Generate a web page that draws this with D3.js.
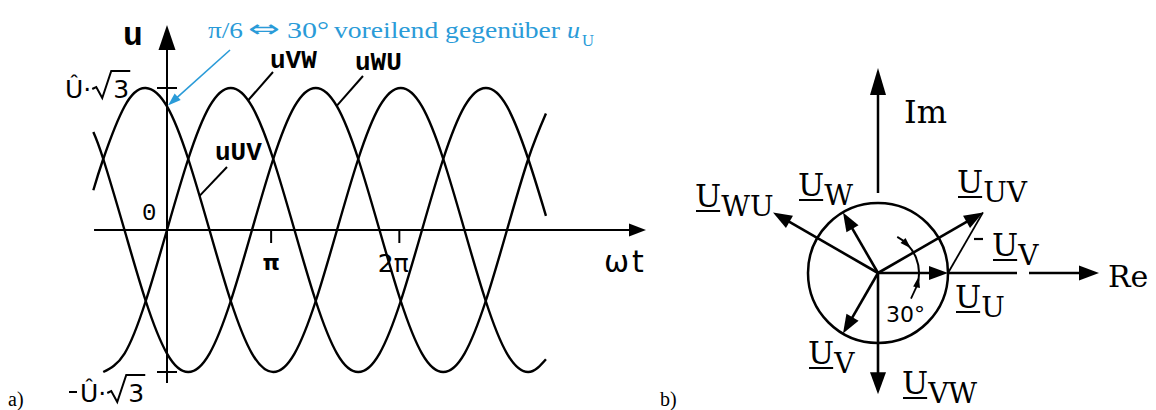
<!DOCTYPE html>
<html>
<head>
<meta charset="utf-8">
<script src="https://cdn.jsdelivr.net/npm/d3@7"></script>
<style>
  html, body { margin: 0; padding: 0; background: #fff; }
  svg { display: block; }
</style>
</head>
<body>
<script>
// ---- a) line voltages over one and a half periods (values in units of Û·√3) ----
const wt   = [-104, -90, -60, -30, 0, 30, 60, 90, 120, 150, 180, 210, 240, 270, 300, 330, 360, 390, 420, 450, 480, 510, 535];
const uVW  = [null, -1, -0.87, -0.5, 0, 0.5, 0.87, 1, 0.87, 0.5, 0, -0.5, -0.87, -1, -0.87, -0.5, 0, 0.5, 0.87, 1, 0.87, 0.5, 0.1];
const uUV  = [0.28, 0.5, 0.87, 1, 0.87, 0.5, 0, -0.5, -0.87, -1, -0.87, -0.5, 0, 0.5, 0.87, 1, 0.87, 0.5, 0, -0.5, -0.87, -1, -0.91];
const uWU  = [0.69, 0.5, 0, -0.5, -0.87, -1, -0.87, -0.5, 0, 0.5, 0.87, 1, 0.87, 0.5, 0, -0.5, -0.87, -1, -0.87, -0.5, 0, 0.5, 0.82];
const xTickLabels = ["π", "2π"];
const xTickAt     = [147, 328];      // ωt in degrees where the marks sit on the axis
const yTickAt     = [1, -1];

// ---- b) phasor diagram (magnitudes relative to Û) ----
const phasorSub   = ["U", "V", "W", "UV", "VW", "WU"];
const phasorAngle = [0, 240, 120, 30, 270, 150];
const phasorMag   = [1, 1, 1, 1.732, 1.732, 1.732];

const W = 1156, H = 410;
const svg = d3.select("body").append("svg").attr("width", W).attr("height", H);
svg.append("rect").attr("width", W).attr("height", H).attr("fill", "#fff");

const INK = "#000";
const BLUE = "#2a9bd8";

function head(g, tip, ang, len, hw, color) {
  // filled arrow head; ang = direction of travel in screen radians
  const ux = Math.cos(ang), uy = Math.sin(ang);
  const bx = tip[0] - ux * len, by = tip[1] - uy * len;
  const p = d3.path();
  p.moveTo(tip[0], tip[1]);
  p.lineTo(bx - uy * hw, by + ux * hw);
  p.lineTo(bx + uy * hw, by - ux * hw);
  p.closePath();
  g.append("path").attr("d", p.toString()).attr("fill", color || INK);
}

// ================= a) =================
const x = d3.scaleLinear().domain([0, 180]).range([167, 294.5]);
const y = d3.scaleLinear().domain([-1, 1]).range([372, 88]);
const ga = svg.append("g");

// axes
ga.append("line").attr("x1", x(-103)).attr("x2", 632).attr("y1", y(0)).attr("y2", y(0))
  .attr("stroke", INK).attr("stroke-width", 2.2);
head(ga, [646, y(0)], 0, 17, 6.5);
ga.append("line").attr("x1", x(0)).attr("x2", x(0)).attr("y1", y(-1.078)).attr("y2", 45)
  .attr("stroke", INK).attr("stroke-width", 2);
head(ga, [x(0), 25], -Math.PI / 2, 25, 8.5);

// ±Û·√3 marks
yTickAt.forEach(v => {
  ga.append("line").attr("x1", x(0) - 10).attr("x2", x(0) + 10).attr("y1", y(v)).attr("y2", y(v))
    .attr("stroke", INK).attr("stroke-width", 2);
});
// ωt marks
xTickAt.forEach(v => {
  ga.append("line").attr("x1", x(v)).attr("x2", x(v)).attr("y1", y(0)).attr("y2", y(0) + 13)
    .attr("stroke", INK).attr("stroke-width", 2);
});
ga.append("text").attr("x", x(xTickAt[0])).attr("y", 270).attr("text-anchor", "middle")
  .style("font", "bold 22px 'DejaVu Sans'").text(xTickLabels[0]);
ga.append("text").attr("x", x(xTickAt[1]) - 6).attr("y", 272).attr("text-anchor", "middle")
  .style("font", "25px 'DejaVu Sans'").text(xTickLabels[1]);

// curves
const line = d3.line().defined(d => d[1] != null).x(d => x(d[0])).y(d => y(d[1])).curve(d3.curveNatural);
[uVW, uUV, uWU].forEach(vals => {
  const pts = wt.map((t, i) => [t, vals[i]]).filter(d => d[1] != null);
  ga.append("path").attr("d", line(pts)).attr("fill", "none")
    .attr("stroke", INK).attr("stroke-width", 2.4);
});

// amplitude labels Û·√3 with drawn radical
function rootLabel(x0, base, minus) {
  const g = ga.append("g");
  let cx = x0;
  if (minus) {
    g.append("line").attr("x1", cx).attr("x2", cx + 8).attr("y1", base - 10).attr("y2", base - 10)
      .attr("stroke", INK).attr("stroke-width", 2);
    cx += 11;
  }
  const t = g.append("text").attr("x", cx).attr("y", base).style("font", "25px 'DejaVu Sans'").text("Û·");
  cx += t.node().getComputedTextLength() + 1;
  const p = d3.path();
  p.moveTo(cx, base - 9); p.lineTo(cx + 4, base - 11); p.lineTo(cx + 10, base);
  p.lineTo(cx + 19, base - 27); p.lineTo(cx + 38, base - 27);
  g.append("path").attr("d", p.toString()).attr("fill", "none").attr("stroke", INK)
    .attr("stroke-width", 2).attr("stroke-linejoin", "miter");
  g.append("text").attr("x", cx + 21).attr("y", base).style("font", "25px 'DejaVu Sans'").text("3");
}
rootLabel(65, 98, false);
rootLabel(69, 402, true);

ga.append("text").attr("x", 123).attr("y", 45).style("font", "bold 33px 'Liberation Mono'").text("u");
ga.append("text").attr("x", 142).attr("y", 220).style("font", "24px 'Liberation Mono'").text("0");
ga.append("text").attr("x", 604).attr("y", 272).style("font", "30px 'DejaVu Sans'")
  .attr("letter-spacing", 3).text("ωt");

// curve names with leader lines
function curveName(sub, tx, base, fromPt, toPt) {
  ga.append("line").attr("x1", fromPt[0]).attr("y1", fromPt[1]).attr("x2", toPt[0]).attr("y2", toPt[1])
    .attr("stroke", INK).attr("stroke-width", 2);
  ga.append("text").attr("x", tx).attr("y", base).style("font", "bold 26px 'Liberation Mono'")
    .text("u" + sub);
}
curveName("VW", 270, 68, [x(114), y(0.91)], [273, 72]);
curveName("WU", 355, 70, [x(239), y(0.87)], [363, 76]);
curveName("UV", 215, 160, [x(46), y(0.24)], [227, 167]);

// blue note with pointer
function notePart(txt, x0, w, base, font) {
  ga.append("text").attr("x", x0).attr("y", base).attr("fill", BLUE)
    .attr("textLength", w).attr("lengthAdjust", "spacingAndGlyphs")
    .style("font", font).text(txt);
}
notePart("π/6", 208, 35, 38, "24px 'Liberation Serif'");
notePart("⇔", 248, 32, 37, "24px 'DejaVu Sans'");
notePart("30°", 287, 42, 38, "24px 'Liberation Serif'");
notePart("voreilend gegenüber", 334, 226, 38, "24px 'Liberation Serif'");
notePart("u", 567, 13, 38, "italic 24px 'Liberation Serif'");
notePart("U", 582, 12, 46, "16px 'Liberation Serif'");
ga.append("line").attr("x1", 230).attr("y1", 50).attr("x2", x(0) + 8).attr("y2", y(0.87) - 7)
  .attr("stroke", BLUE).attr("stroke-width", 1.6);
head(ga, [x(0) + 1, y(0.87) - 1], Math.atan2(56, -62), 13, 4.5, BLUE);

ga.append("text").attr("x", 8).attr("y", 406).style("font", "20px 'Liberation Serif'").text("a)");

// ================= b) =================
const gb = svg.append("g");
const cx = 878, cy = 273;
const r = d3.scaleLinear().domain([0, 1]).range([0, 70]);
const pt = (mag, deg) => [cx + r(mag) * Math.cos(deg * Math.PI / 180), cy - r(mag) * Math.sin(deg * Math.PI / 180)];

gb.append("circle").attr("cx", cx).attr("cy", cy).attr("r", r(1)).attr("fill", "none")
  .attr("stroke", INK).attr("stroke-width", 2.5);

// Im axis
gb.append("line").attr("x1", cx).attr("x2", cx).attr("y1", cy - 80).attr("y2", cy - 180)
  .attr("stroke", INK).attr("stroke-width", 2.5);
head(gb, [cx, cy - 205], -Math.PI / 2, 27, 8);
// Re axis
gb.append("line").attr("x1", cx + 70).attr("x2", cx + 139).attr("y1", cy).attr("y2", cy)
  .attr("stroke", INK).attr("stroke-width", 2.5);
gb.append("line").attr("x1", cx + 151).attr("x2", cx + 205).attr("y1", cy).attr("y2", cy)
  .attr("stroke", INK).attr("stroke-width", 2.5);
head(gb, [cx + 221, cy], 0, 20, 7.5);

// -U_V from the tip of U_U to the tip of U_UV
const tipU = pt(phasorMag[0], phasorAngle[0]);
const tipUV = pt(phasorMag[3], phasorAngle[3]);
gb.append("line").attr("x1", tipU[0]).attr("y1", tipU[1]).attr("x2", tipUV[0]).attr("y2", tipUV[1])
  .attr("stroke", INK).attr("stroke-width", 1.8);

// phasors
phasorSub.forEach((s, i) => {
  const tip = pt(phasorMag[i], phasorAngle[i]);
  const ang = -phasorAngle[i] * Math.PI / 180;
  const len = s === "VW" ? 22 : 19;
  const hw = s === "VW" ? 8 : 7;
  const end = [tip[0] - Math.cos(ang) * (len - 2), tip[1] - Math.sin(ang) * (len - 2)];
  gb.append("line").attr("x1", cx).attr("y1", cy).attr("x2", end[0]).attr("y2", end[1])
    .attr("stroke", INK).attr("stroke-width", 2.6);
  head(gb, tip, ang, len, hw);
});

// 30° dimension arc
const rad = d => -d * Math.PI / 180;
const ap = d3.path();
ap.arc(cx, cy, 41, rad(62), rad(-18), false);
gb.append("path").attr("d", ap.toString()).attr("fill", "none").attr("stroke", INK).attr("stroke-width", 2);
function arcHead(tipDeg, baseDeg) {
  const t = [cx + 41 * Math.cos(rad(tipDeg)), cy + 41 * Math.sin(rad(tipDeg))];
  const b = [cx + 41 * Math.cos(rad(baseDeg)), cy + 41 * Math.sin(rad(baseDeg))];
  head(gb, t, Math.atan2(t[1] - b[1], t[0] - b[0]), 11, 3.5);
}
arcHead(37, 52);
arcHead(-5, -19);
const arcEnd = [cx + 41 * Math.cos(rad(-18)), cy + 41 * Math.sin(rad(-18))];
gb.append("line").attr("x1", arcEnd[0]).attr("y1", arcEnd[1]).attr("x2", arcEnd[0] - 6).attr("y2", arcEnd[1] + 13)
  .attr("stroke", INK).attr("stroke-width", 1.8);
gb.append("text").attr("x", 886).attr("y", 322).style("font", "22px 'DejaVu Sans'").text("30°");

// phasor names
function phasorName(sub, x0, base, minus) {
  if (minus) {
    gb.append("line").attr("x1", x0 - 18).attr("x2", x0 - 9).attr("y1", base - 17).attr("y2", base - 17)
      .attr("stroke", INK).attr("stroke-width", 2.2);
  }
  const t = gb.append("text").attr("x", x0).attr("y", base).style("font", "31px 'DejaVu Serif'").text("U");
  const w = t.node().getComputedTextLength();
  gb.append("line").attr("x1", x0 + 1).attr("x2", x0 + w - 1).attr("y1", base + 4).attr("y2", base + 4)
    .attr("stroke", INK).attr("stroke-width", 2);
  gb.append("text").attr("x", x0 + w).attr("y", base + 9).style("font", "28px 'DejaVu Serif'").text(sub);
}
phasorName("WU", 695, 207);
phasorName("W", 798, 196);
phasorName("UV", 957, 193);
phasorName("V", 992, 256, true);
phasorName("U", 955, 308);
phasorName("V", 808, 364);
phasorName("VW", 902, 394);

gb.append("text").attr("x", 904).attr("y", 123).style("font", "32px 'DejaVu Serif'").text("Im");
gb.append("text").attr("x", 1108).attr("y", 287).style("font", "30px 'DejaVu Serif'").text("Re");
gb.append("text").attr("x", 660).attr("y", 406).style("font", "20px 'Liberation Serif'").text("b)");
</script>
</body>
</html>
